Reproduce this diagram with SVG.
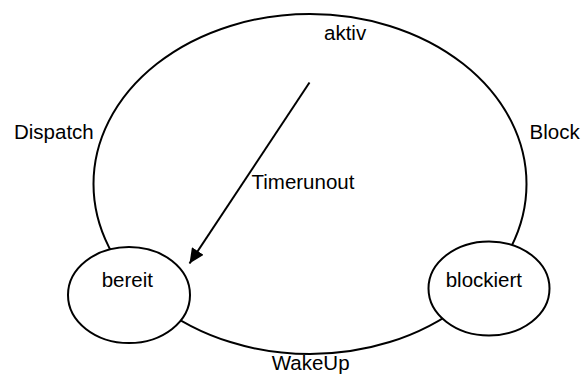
<svg xmlns="http://www.w3.org/2000/svg" width="582" height="374" viewBox="0 0 582 374">
  <style>
    .shape { fill: none; stroke: #000; stroke-width: 2; }
    .state { fill: #fff; stroke: #000; stroke-width: 2; }
    .lbl { font-family: "Liberation Sans", Arial, sans-serif; font-size: 20.5px; fill: #000; }
    .edge { fill: none; stroke: #000; stroke-width: 2; }
  </style>
  <defs>
    <marker id="arrow" markerUnits="userSpaceOnUse" markerWidth="16" markerHeight="14" refX="15" refY="7" orient="auto">
      <path d="M0,0 L15,7 L0,14 Z" fill="#000"/>
    </marker>
  </defs>
  <rect width="582" height="374" fill="#fff"/>
  <g id="aktiv">
    <ellipse class="shape" cx="310" cy="184" rx="216.5" ry="170"/>
    <text class="lbl" x="324" y="40">aktiv</text>
  </g>
  <g id="bereit">
    <ellipse class="state" cx="129" cy="295" rx="61" ry="48"/>
    <text class="lbl" x="101.7" y="287">bereit</text>
  </g>
  <g id="blockiert">
    <ellipse class="state" cx="489" cy="288.5" rx="60.5" ry="47"/>
    <text class="lbl" x="445.7" y="287">blockiert</text>
  </g>
  <g id="connectors">
    <line class="edge" x1="309.5" y1="82.5" x2="189.5" y2="263.5" marker-end="url(#arrow)"/>
    <text class="lbl" x="251.5" y="189">Timerunout</text>
    <text class="lbl" x="14" y="139">Dispatch</text>
    <text class="lbl" x="529.5" y="139">Block</text>
    <text class="lbl" x="271.7" y="369.5">WakeUp</text>
  </g>
</svg>
